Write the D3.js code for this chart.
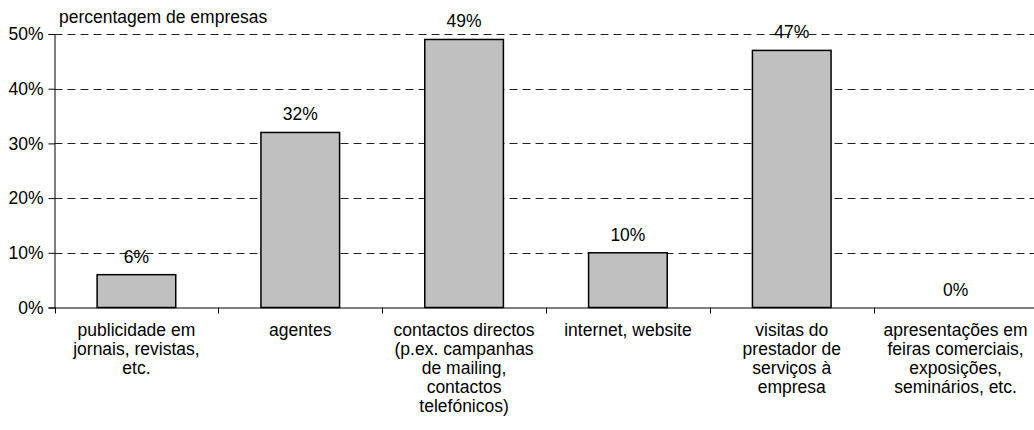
<!DOCTYPE html>
<html>
<head>
<meta charset="utf-8">
<script src="https://cdn.jsdelivr.net/npm/d3@7"></script>
<style>
  body { margin: 0; background: #fff; }
  svg { display: block; font-family: "Liberation Sans", Arial, sans-serif; }
</style>
</head>
<body>
<svg id="chart" width="1034" height="430"></svg>
<script>
// Canais usados para encontrar prestadores de serviços
const categories = [
  ["publicidade em", "jornais, revistas,", "etc."],
  ["agentes"],
  ["contactos directos", "(p.ex. campanhas", "de mailing,", "contactos", "telefónicos)"],
  ["internet, website"],
  ["visitas do", "prestador de", "serviços à", "empresa"],
  ["apresentações em", "feiras comerciais,", "exposições,", "seminários, etc."]
];
const values = [6, 32, 49, 10, 47, 0];
const yTicks = [0, 10, 20, 30, 40, 50];
const yTitle = "percentagem de empresas";

const fontSize = 17.5;
const svg = d3.select("#chart");
const plotLeft = 54.5, plotRight = 1037.5, plotTop = 34, plotBottom = 307.5;

const x = d3.scaleBand()
  .domain(d3.range(categories.length))
  .range([plotLeft, plotRight])
  .paddingInner(0.52)
  .paddingOuter(0.26);
const band = (plotRight - plotLeft) / categories.length;

const y = d3.scaleLinear().domain([0, 50]).range([plotBottom, plotTop]);

// dashed gridlines
svg.append("g")
  .selectAll("line")
  .data(yTicks.filter(d => d > 0))
  .join("line")
  .attr("x1", plotLeft).attr("x2", 1034)
  .attr("y1", d => Math.round(y(d)) + 0.5).attr("y2", d => Math.round(y(d)) + 0.5)
  .attr("stroke", "#222")
  .attr("stroke-width", 1)
  .attr("stroke-dasharray", "8,5");

// bars
svg.append("g")
  .selectAll("rect")
  .data(values)
  .join("rect")
  .filter(d => d > 0)
  .attr("x", (d, i) => x(i))
  .attr("y", d => y(d))
  .attr("width", x.bandwidth())
  .attr("height", d => plotBottom - y(d))
  .attr("fill", "#c0c0c0")
  .attr("stroke", "#000")
  .attr("stroke-width", 1.5);

// value labels
svg.append("g")
  .selectAll("text")
  .data(values)
  .join("text")
  .attr("x", (d, i) => x(i) + x.bandwidth() / 2)
  .attr("y", d => y(d) - 12)
  .attr("text-anchor", "middle")
  .attr("font-size", fontSize)
  .attr("fill", "#000")
  .text(d => d + "%");

// y axis
const yAxis = d3.axisLeft(y)
  .tickValues(yTicks)
  .tickFormat(d => d + "%")
  .tickSize(6)
  .tickPadding(5);
const gy = svg.append("g")
  .attr("transform", `translate(${plotLeft},0)`)
  .call(yAxis);
gy.select(".domain").attr("stroke", "#000");
gy.selectAll(".tick line").attr("stroke", "#000");
gy.selectAll(".tick text")
  .attr("font-size", fontSize)
  .attr("fill", "#000")
  .attr("font-family", "Liberation Sans, Arial, sans-serif");

// x axis baseline and band separators
svg.append("line")
  .attr("x1", plotLeft).attr("x2", 1034)
  .attr("y1", plotBottom + 0.5).attr("y2", plotBottom + 0.5)
  .attr("stroke", "#000");
svg.append("g")
  .selectAll("line")
  .data(d3.range(categories.length + 1))
  .join("line")
  .attr("x1", i => Math.round(plotLeft + i * band) + 0.5)
  .attr("x2", i => Math.round(plotLeft + i * band) + 0.5)
  .attr("y1", plotBottom).attr("y2", plotBottom + 6)
  .attr("stroke", "#000");

// category labels
const labels = svg.append("g")
  .selectAll("text")
  .data(categories)
  .join("text")
  .attr("x", (d, i) => x(i) + x.bandwidth() / 2)
  .attr("y", 336)
  .attr("text-anchor", "middle")
  .attr("font-size", fontSize)
  .attr("fill", "#000");
labels.selectAll("tspan")
  .data((d, i) => d.map(t => ({ t, cx: x(i) + x.bandwidth() / 2 })))
  .join("tspan")
  .attr("x", d => d.cx)
  .attr("dy", (d, j) => j === 0 ? 0 : 19)
  .text(d => d.t);

// axis title
svg.append("text")
  .attr("x", 59)
  .attr("y", 23)
  .attr("font-size", fontSize)
  .attr("fill", "#000")
  .text(yTitle);
</script>
</body>
</html>
